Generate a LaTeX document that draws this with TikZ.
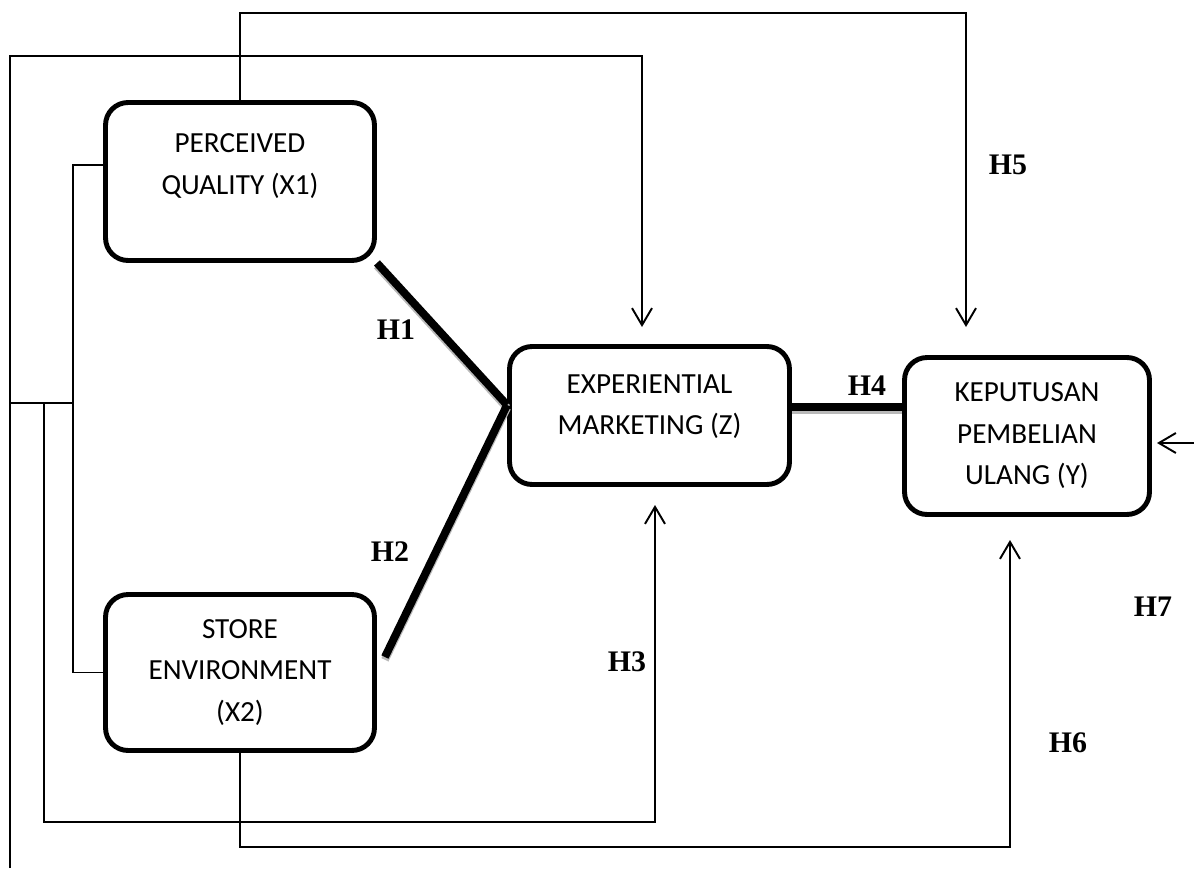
\documentclass[tikz,border=0pt]{standalone}
\usepackage{fontspec}
\setmainfont{Carlito}
\newfontfamily\hypfont{Liberation Serif}
\usetikzlibrary{arrows.meta}

\begin{document}
\begin{tikzpicture}[
    x=0.02cm, y=-0.02cm,
    box/.style={draw, line width=2.8pt, rounded corners=0.45cm, align=center,
      inner sep=0pt, font=\fontsize{16.6}{23.6}\selectfont},
    link/.style={line width=1.1pt},
    arr/.style={link, -{Straight Barb[length=0.34cm, width=0.4cm]}},
    hline/.style={line width=4.5pt, preaction={draw=gray!55, line width=4.5pt,
      transform canvas={yshift=-1.6pt}}},
    hyp/.style={font=\hypfont\bfseries\fontsize{17}{20}\selectfont, inner sep=0pt}
]
  \useasboundingbox (0,0) rectangle (1194,872);

  % Variables
  \node[box, minimum width=5.38cm, minimum height=3.16cm] (pq) at (240,181.5)
    {PERCEIVED\\QUALITY (X1)\\[-0.38cm]\strut};
  \node[box, minimum width=5.38cm, minimum height=3.12cm] (se) at (240,672.5)
    {STORE\\ENVIRONMENT\\(X2)};
  \node[box, minimum width=5.6cm, minimum height=2.76cm] (em) at (649.5,415.5)
    {EXPERIENTIAL\\MARKETING (Z)\\[-0.64cm]\strut};
  \node[box, minimum width=4.9cm, minimum height=3.14cm] (kpu) at (1027,436)
    {KEPUTUSAN\\PEMBELIAN\\ULANG (Y)};

  % Free ends
  \coordinate (hub)     at (73,403);
  \coordinate (leftend) at (10,868);
  \coordinate (emtip)   at (642,327);
  \coordinate (kputip)  at (966,327);
  \coordinate (h3tip)   at (655,505);
  \coordinate (h6tip)   at (1010,540);
  \coordinate (h7start) at (1194,443);
  \coordinate (h7tip)   at (1157,443);
  \coordinate (emjoin)  at ([yshift=0.21cm]em.west);
  \coordinate (h4a)     at ([yshift=0.17cm]em.east);

  % Direct paths
  \draw[hline] (pq.south east) -- (emjoin);
  \draw[hline] (emjoin) -- ([xshift=0.16cm, yshift=0.31cm]se.east);
  \draw[hline] (h4a) -- (h4a -| kpu.west);

  % Other paths
  \draw[arr] (pq.north) |- (966,13) -- (kputip);
  \draw[arr] (leftend) |- (642,56) -- (emtip);
  \draw[link] ([yshift=0.33cm]pq.west) -| (hub) |- (se.west);
  \draw[link] (hub) -- (10,403);
  \draw[arr] (44,403) |- (655,822) -- (h3tip);
  \draw[arr] (se.south) |- (1010,847) -- (h6tip);
  \draw[arr] (h7start) -- (h7tip);

  % Labels
  \node[hyp] (h1) at (396,330) {H1};
  \node[hyp] (h2) at (390,552) {H2};
  \node[hyp] (h3) at (627,662) {H3};
  \node[hyp] (h4) at (867,386) {H4};
  \node[hyp] (h5) at (1008,165) {H5};
  \node[hyp] (h6) at (1068,743) {H6};
  \node[hyp] (h7) at (1153,607) {H7};
\end{tikzpicture}
\end{document}
